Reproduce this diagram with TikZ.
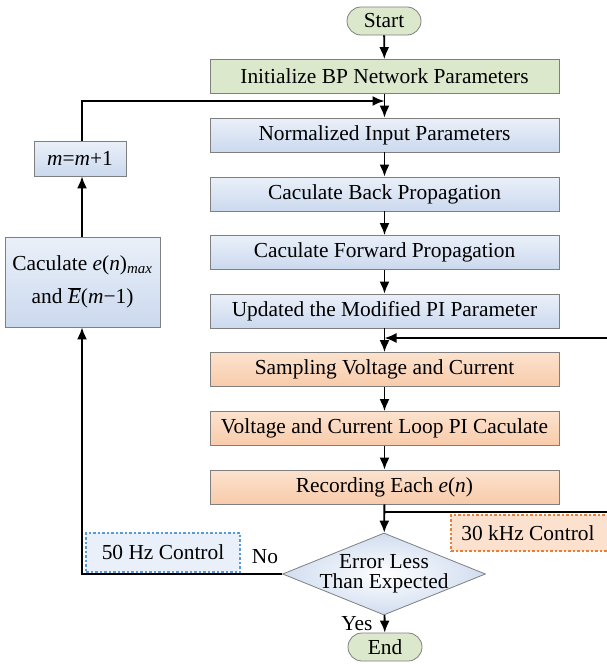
\documentclass[tikz,border=0pt]{standalone}
\usepackage{fontspec}
\setmainfont{Liberation Serif}
\usetikzlibrary{shapes.geometric,shapes.misc,arrows.meta}
\definecolor{bordgray}{HTML}{7F7F7F}
\definecolor{greenfill}{HTML}{DCE8CC}
\definecolor{bluetop}{HTML}{EAF0F9}
\definecolor{bluebot}{HTML}{CBD9EE}
\definecolor{orgtop}{HTML}{FCE2CE}
\definecolor{orgbot}{HTML}{F8CBAA}
\definecolor{dashblue}{HTML}{5B9BD5}
\definecolor{dashorange}{HTML}{ED7D31}
\begin{document}
\begin{tikzpicture}[x=1pt,y=1pt,
  every node/.style={font=\fontsize{21.4}{23}\selectfont, inner sep=0pt},
  box/.style={rectangle, draw=bordgray, line width=0.8pt, minimum height=34pt, align=center},
  mainbox/.style={box, minimum width=349pt},
  bluebox/.style={top color=bluetop, bottom color=bluebot},
  orgbox/.style={top color=orgtop, bottom color=orgbot},
  term/.style={rounded rectangle, draw=bordgray, line width=0.8pt, fill=greenfill, minimum width=74pt, minimum height=28pt},
  decision/.style={diamond, draw=bordgray, line width=0.8pt, inner color=white, outer color=bluebot!90, minimum width=203pt, minimum height=82pt, aspect=2.47},
  dashbox/.style={rectangle, dashed, line width=1.2pt, dash pattern=on 2.5pt off 2pt},
  conn/.style={line width=1.8pt, -{Latex[length=12pt,width=10pt]}},
  line/.style={line width=1.8pt}
]
\useasboundingbox (0,0) rectangle (607,-664);

\node[term] (start) at (384,-21) {Start};
\node[mainbox, fill=greenfill] (init) at (384.5,-76.5) {Initialize BP Network Parameters};
\node[mainbox, bluebox] (norm) at (384.5,-135) {Normalized Input Parameters};
\node[mainbox, bluebox] (back) at (384.5,-194) {Caculate Back Propagation};
\node[mainbox, bluebox] (fwd) at (384.5,-252.5) {Caculate Forward Propagation};
\node[mainbox, bluebox] (upd) at (384.5,-311) {Updated the Modified PI Parameter};
\node[mainbox, orgbox] (samp) at (384.5,-369.5) {Sampling Voltage and Current};
\node[mainbox, orgbox] (volt) at (384.5,-428.5) {Voltage and Current Loop PI Caculate};
\node[mainbox, orgbox] (rec) at (384.5,-487) {Recording Each \textit{e}(\textit{n})};
\node[decision, label={[align=center, font=\fontsize{21.4}{20}\selectfont]center:Error Less\\Than Expected}] (dec) at (384,-574) {};
\node[term] (end) at (385,-647) {End};

\node[box, bluebox, minimum width=155pt, minimum height=90pt, align=center] (calc) at (82.5,-282)
  {Caculate \textit{e}(\textit{n})\textsubscript{\textit{max}}\\[10pt] and $\overline{\hbox{\textit{E}}}$(\textit{m}−1)};
\node[box, bluebox, minimum width=92pt, minimum height=35pt] (minc) at (80,-158.5) {\textit{m}=\textit{m}+1};

\node[dashbox, draw=dashblue, fill=bluetop, minimum width=154pt, minimum height=39pt] (hz50) at (163,-552.5) {50 Hz Control};
\node[dashbox, draw=dashorange, fill=orgtop, minimum width=160pt, minimum height=36pt] (khz30) at (531,-533) {\hspace*{-6pt}30 kHz Control};

\node (no) at (265,-557) {No};
\node (yes) at (357,-624) {Yes};

\coordinate (r1) at (384.5,-512);
\coordinate (r2) at (609,-512);
\coordinate (r3) at (609,-338);
\coordinate (r4) at (384.5,-338);
\coordinate (l1) at (82,-101);
\coordinate (l2) at (384.5,-101);
\coordinate (d1) at (82,-574);

\draw[conn] (start) -- (init);
\draw[conn] (init) -- (norm);
\draw[conn] (norm) -- (back);
\draw[conn] (back) -- (fwd);
\draw[conn] (fwd) -- (upd);
\draw[conn] (upd) -- (samp);
\draw[conn] (samp) -- (volt);
\draw[conn] (volt) -- (rec);
\draw[conn] (rec) -- (dec);
\draw[conn] (dec) -- (end);
\draw[conn] (minc.north -| l1) -- (l1) -- (l2);
\draw[conn] (r1) -- (r2) -- (r3) -- (r4);
\draw[conn] (dec.west) -- (d1) -- (calc.south -| d1);
\draw[conn] (calc.north -| l1) -- (minc.south -| l1);
\end{tikzpicture}
\end{document}
